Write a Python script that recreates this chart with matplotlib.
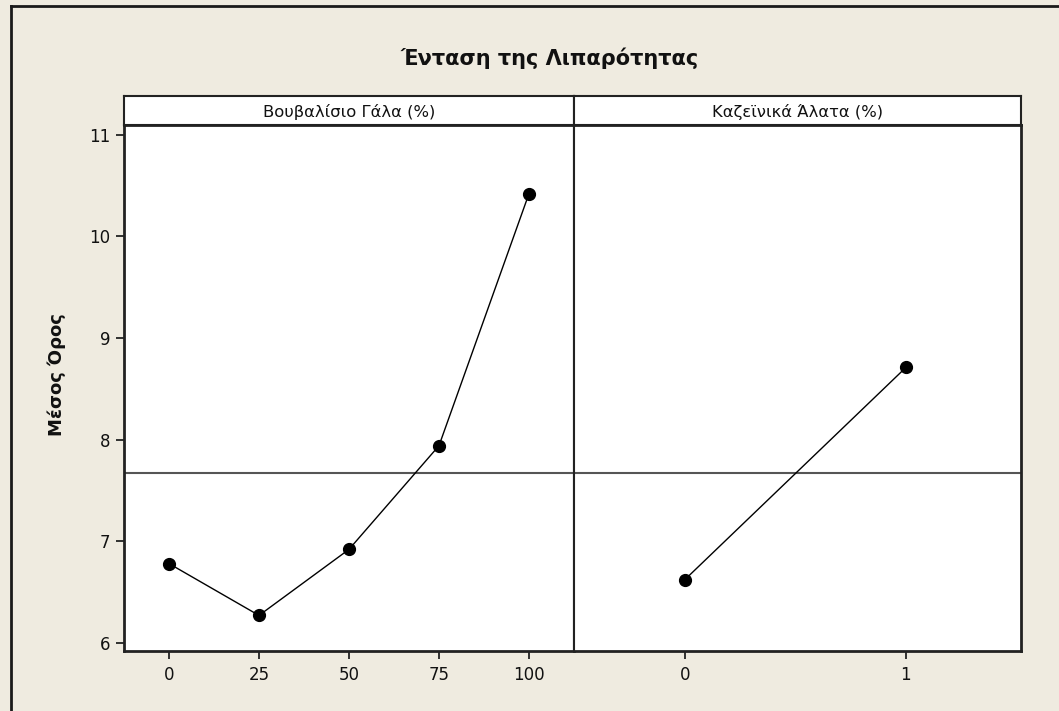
import numpy as np
import matplotlib
matplotlib.use("Agg")
import matplotlib.pyplot as plt
from matplotlib.lines import Line2D

# data
milk_levels = [0, 25, 50, 75, 100]
milk_means = [6.78, 6.27, 6.92, 7.94, 10.42]
salt_levels = [0, 1]
salt_means = [6.62, 8.71]
grand_mean = 7.67

panel_titles = ["Βουβαλίσιο Γάλα (%)", "Καζεϊνικά Άλατα (%)"]
main_title = "Ένταση της Λιπαρότητας"
y_label = "Μέσος Όρος"
y_ticks = [6, 7, 8, 9, 10, 11]

plt.rcParams['font.family'] = ['DejaVu Sans']
bg = '#efebe0'
frame_col = '#222222'

W, H = 1059, 711
fig = plt.figure(figsize=(W / 100, H / 100), dpi=100, facecolor=bg)

def box(x0, y0, x1, y1):
    # pixel box (top-left origin) -> figure fraction rect
    return [x0 / W, 1 - y1 / H, (x1 - x0) / W, (y1 - y0) / H]

ax1 = fig.add_axes(box(124, 124.5, 574, 651))
ax2 = fig.add_axes(box(574, 124.5, 1021, 651))
s1 = fig.add_axes(box(124, 96, 574, 124.5))
s2 = fig.add_axes(box(574, 96, 1021, 124.5))

ylim = (5.92, 11.1)

for ax, xs, ys, xlim in [(ax1, milk_levels, milk_means, (-12.5, 112.5)),
                         (ax2, salt_levels, salt_means, (-0.5, 1.52))]:
    ax.set_facecolor('white')
    ax.axhline(grand_mean, color='#555555', lw=1.5, zorder=1)
    ax.plot(xs, ys, color='black', lw=1.0, marker='o', ms=8.5,
            mfc='black', mec='black', zorder=3)
    ax.set_xlim(*xlim)
    ax.set_ylim(*ylim)
    ax.set_xticks(xs)
    ax.set_xticklabels([str(v) for v in xs])
    for sp in ax.spines.values():
        sp.set_color(frame_col)
        sp.set_linewidth(2)
    ax.tick_params(axis='x', direction='out', length=6, width=1.3,
                   color=frame_col, labelsize=12, pad=5, labelcolor='#111')

ax1.set_yticks(y_ticks)
ax1.tick_params(axis='y', direction='out', length=6, width=1.3,
                color=frame_col, labelsize=12, pad=4, labelcolor='#111')
ax2.set_yticks([])
ax2.spines['left'].set_linewidth(1.5)
ax1.spines['right'].set_linewidth(1.5)

for s, t in [(s1, panel_titles[0]), (s2, panel_titles[1])]:
    s.set_facecolor('white')
    s.set_xticks([])
    s.set_yticks([])
    for sp in s.spines.values():
        sp.set_color(frame_col)
        sp.set_linewidth(1.5)
    s.text(0.5, 0.45, t, ha='center', va='center', fontsize=11.8,
           color='#111', transform=s.transAxes)

fig.text(550 / W, 1 - 58 / H, main_title, ha='center', va='center',
         fontsize=15, fontweight='bold', color='#111')
fig.text(57 / W, 1 - 375 / H, y_label, ha='center', va='center',
         rotation=90, fontsize=13, fontweight='bold', color='#111')

# window border (top and left)
fig.add_artist(Line2D([10.5 / W, 10.5 / W], [0, 1 - 6 / H],
                      transform=fig.transFigure, color='#1a1a1a', lw=2))
fig.add_artist(Line2D([10.5 / W, 1], [1 - 6 / H, 1 - 6 / H],
                      transform=fig.transFigure, color='#1a1a1a', lw=2))

fig.savefig("out.png", dpi=100, facecolor=bg)
